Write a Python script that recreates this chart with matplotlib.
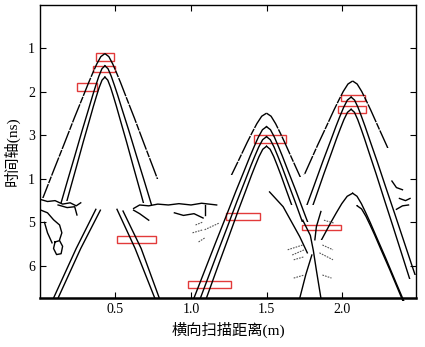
import numpy as np
import matplotlib
matplotlib.use("Agg")
import matplotlib.pyplot as plt
from matplotlib.patches import Rectangle

plt.rcParams['font.family'] = ['Liberation Serif', 'Noto Sans CJK SC']

# hyperbola leg profile (offset from apex, m / ns)
leg_dx = np.array([0, .02, .04, .06, .08, .11, .15, .2, .25, .3, .35, .4, .45, .5, .55, .6])
leg_dt = np.array([0, .07, .24, .45, .67, 1.02, 1.48, 2.08, 2.67, 3.27, 3.87, 4.46, 5.06, 5.66, 6.26, 6.86])

# reflections: apex x, apex t, left/right widening, left/right end time, ragged edge
hyp_x0 = [0.43, 0.43, 0.43, 1.50, 1.50, 1.50, 1.50, 2.07, 2.06, 2.06, 2.07, 2.10]
hyp_t0 = [1.12, 1.40, 1.66, 2.49, 2.80, 3.03, 3.25, 1.75, 2.12, 2.40, 4.33, 4.62]
hyp_sl = [1.35, 1.00, 0.95, 1.60, 1.35, 1.30, 1.25, 1.55, 1.25, 1.20, 1.80, 1.00]
hyp_sr = [1.30, 1.05, 0.95, 1.50, 1.30, 1.25, 1.20, 1.50, 1.15, 1.10, 1.45, 1.45]
hyp_el = [4.45, 4.55, 4.50, 3.90, 6.74, 6.74, 6.74, 3.90, 4.60, 4.60, 5.40, 4.62]
hyp_er = [4.00, 4.60, 4.55, 3.95, 5.00, 5.00, 4.60, 3.30, 6.20, 6.30, 6.80, 6.80]
hyp_rag = [1, 0, 0, 1, 0, 0, 0, 1, 0, 0, 0, 0]

# lower section: V shaped legs and other edge fragments (x in m, t in ns)
edges = [
    ([0.37, 0.24, 0.09], [4.70, 5.60, 6.74]),
    ([0.40, 0.27, 0.12], [4.72, 5.60, 6.74]),
    ([0.51, 0.63, 0.76], [4.70, 5.60, 6.74]),
    ([0.55, 0.67, 0.79], [4.74, 5.60, 6.74]),
    ([0.00, 0.05, 0.10, 0.15, 0.20, 0.24, 0.27], [4.47, 4.52, 4.50, 4.58, 4.55, 4.62, 4.55]),
    ([0.62, 0.66, 0.72, 0.78, 0.85, 0.92, 1.00, 1.07, 1.17], [4.68, 4.60, 4.62, 4.58, 4.60, 4.57, 4.60, 4.56, 4.60]),
    ([0.62, 0.66, 0.72], [4.72, 4.80, 4.95]),
    ([0.89, 0.95, 1.02, 1.08], [4.78, 4.84, 4.80, 4.90]),
    ([1.09, 1.09], [4.60, 4.83]),
    ([0.00, 0.05, 0.09, 0.13, 0.145, 0.13], [4.71, 4.78, 4.94, 5.06, 5.24, 5.40]),
    ([0.10, 0.13, 0.15, 0.14, 0.11, 0.09, 0.10], [5.45, 5.42, 5.55, 5.72, 5.74, 5.60, 5.45]),
    ([0.03, 0.05, 0.08], [5.00, 5.24, 5.47]),
    ([0.12, 0.18, 0.23, 0.245], [4.60, 4.66, 4.64, 4.83]),
    ([1.74, 1.79, 1.81, 1.83, 1.86], [4.95, 5.30, 5.65, 6.10, 6.74]),
    ([1.86, 1.83, 1.82], [4.75, 5.10, 5.40]),
    ([1.80, 1.76, 1.72], [5.75, 6.20, 6.74]),
    ([1.52, 1.61, 1.72, 1.77], [4.30, 4.64, 5.33, 5.70]),
    ([2.33, 2.36, 2.40], [4.05, 4.20, 4.25]),
    ([2.38, 2.42, 2.45], [4.45, 4.50, 4.45]),
    ([2.36, 2.40, 2.44], [4.70, 4.62, 4.60]),
]

# faint dashed stripes (x1, t1, x2, t2)
stripes = [
    (1.03, 5.06, 1.08, 4.99), (1.01, 5.24, 1.08, 5.17), (1.05, 5.45, 1.09, 5.36),
    (1.09, 5.17, 1.19, 5.01),
    (1.64, 5.63, 1.74, 5.52), (1.67, 5.75, 1.75, 5.63), (1.68, 5.86, 1.75, 5.79),
    (1.68, 6.28, 1.75, 6.21),
    (1.87, 5.52, 1.94, 5.63), (1.85, 5.70, 1.94, 5.86), (1.87, 6.21, 1.93, 6.28),
    (1.88, 4.95, 1.95, 5.02),
]

# picked apex boxes (x, t, width, height)
boxes = [
    (0.37, 1.10, 0.12, 0.19), (0.35, 1.40, 0.15, 0.14), (0.245, 1.79, 0.135, 0.18),
    (1.42, 3.00, 0.21, 0.17), (1.99, 2.07, 0.16, 0.14), (1.97, 2.32, 0.19, 0.17),
    (0.51, 5.31, 0.26, 0.16), (1.23, 4.79, 0.23, 0.15), (0.98, 6.34, 0.285, 0.17),
    (1.735, 5.06, 0.255, 0.11),
]

x_ticks = [0.5, 1.0, 1.5, 2.0]
x_ticklabels = ['0.5', '1.0', '1.5', '2.0']
y_ticks = [1, 2, 3, 4, 5, 6]
y_ticklabels = ['1', '2', '3', '1', '5', '6']

fig = plt.figure(figsize=(4.25, 3.47), dpi=100)
ax = fig.add_axes([0.094, 0.141, 0.885, 0.845])
ax.set_xlim(0, 2.49)
ax.set_ylim(6.74, 0)

for i in range(len(hyp_x0)):
    ls = (0, (14, 0.8, 5, 0.8)) if hyp_rag[i] else '-'
    for side, s, t_end in ((-1, hyp_sl[i], hyp_el[i]), (1, hyp_sr[i], hyp_er[i])):
        xs = hyp_x0[i] + side * leg_dx * s
        ts = hyp_t0[i] + leg_dt
        line, = ax.plot(xs, ts, color='black', lw=1.0, ls=ls)
        clip = Rectangle((-1, hyp_t0[i] - 0.05), 5, t_end - hyp_t0[i] + 0.05,
                         transform=ax.transData)
        line.set_clip_path(clip)

for xs, ts in edges:
    ax.plot(xs, ts, color='black', lw=1.0)

for x1, t1, x2, t2 in stripes:
    ax.plot([x1, x2], [t1, t2], color='#555555', lw=0.8, ls=(0, (1.5, 1)))

for bx, bt, bw, bh in boxes:
    ax.add_patch(Rectangle((bx, bt), bw, bh, fill=False, edgecolor='#e23a3a', lw=1.0))

ax.set_xticks(x_ticks)
ax.set_xticklabels(x_ticklabels)
ax.set_yticks(y_ticks)
ax.set_yticklabels(y_ticklabels)
ax.tick_params(direction='in', length=4, top=True, right=True, labelsize=10)
for sp in ax.spines.values():
    sp.set_linewidth(1.0)
ax.spines['bottom'].set_linewidth(1.8)

ax.set_xlabel('横向扫描距离(m)', fontsize=11, labelpad=4)
ax.set_ylabel('时间轴(ns)', fontsize=11, labelpad=6)

fig.savefig('out.png', dpi=100)
